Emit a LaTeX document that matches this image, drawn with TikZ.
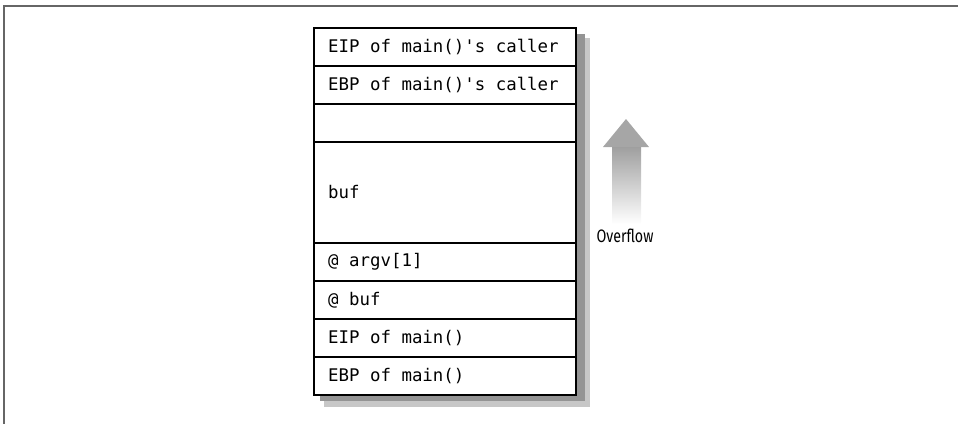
\documentclass[tikz,border=0pt]{standalone}
\usepackage{fontspec}
\newfontfamily\stackfont{DejaVu Sans Mono}
\newfontfamily\labelfont[FakeStretch=0.79]{Fira Sans}
\usetikzlibrary{positioning}

\tikzset{
  row/.style={draw, fill=white, line width=1.6pt, outer sep=0pt, inner sep=0pt,
    minimum width=262pt, minimum height=38pt},
  cell/.style={inner sep=0pt, anchor=west, font=\stackfont\fontsize{17.4}{20}\selectfont},
  frameline/.style={draw=black!60, line width=1.8pt}
}

\begin{document}
\begin{tikzpicture}[x=1pt,y=-1pt]
\useasboundingbox (0,0) rectangle (958,424);

% Frame
\draw[frameline] (958,6) -- (4,6) -- (4,424);

% Shadow
\fill[black!22] (324,38) rectangle (590,407);
\fill[black!42] (320,34) rectangle (585,401);

% Stack
\node[row, anchor=north west] (eipc) at (314,28) {};
\node[row, below=0pt of eipc] (ebpc) {};
\node[row, below=0pt of ebpc] (gap) {};
\node[row, minimum height=101pt, below=0pt of gap] (buf) {};
\node[row, below=0pt of buf] (argv) {};
\node[row, below=0pt of argv] (abuf) {};
\node[row, below=0pt of abuf] (eipm) {};
\node[row, below=0pt of eipm] (ebpm) {};

% Stack texts
\node[cell, right=14pt of eipc.west] (eipct) {EIP of main()'s caller};
\node[cell, right=14pt of ebpc.west] (ebpct) {EBP of main()'s caller};
\node[cell, right=14pt of buf.west] (buft) {buf};
\node[cell, right=14pt of argv.west] (argvt) {@ argv[1]};
\node[cell, right=14pt of abuf.west] (abuft) {@ buf};
\node[cell, right=14pt of eipm.west] (eipmt) {EIP of main()};
\node[cell, right=14pt of ebpm.west] (ebpmt) {EBP of main()};

% Overflow arrow
\shade[top color=black!38, bottom color=white] (612,146) rectangle (641,224);
\fill[black!35] (603,147) -- (626,119) -- (649,147) -- cycle;
\node[font=\labelfont\fontsize{18}{20}\selectfont, inner sep=0pt] (ovf) at (625,236) {Overflow};
\end{tikzpicture}
\end{document}
